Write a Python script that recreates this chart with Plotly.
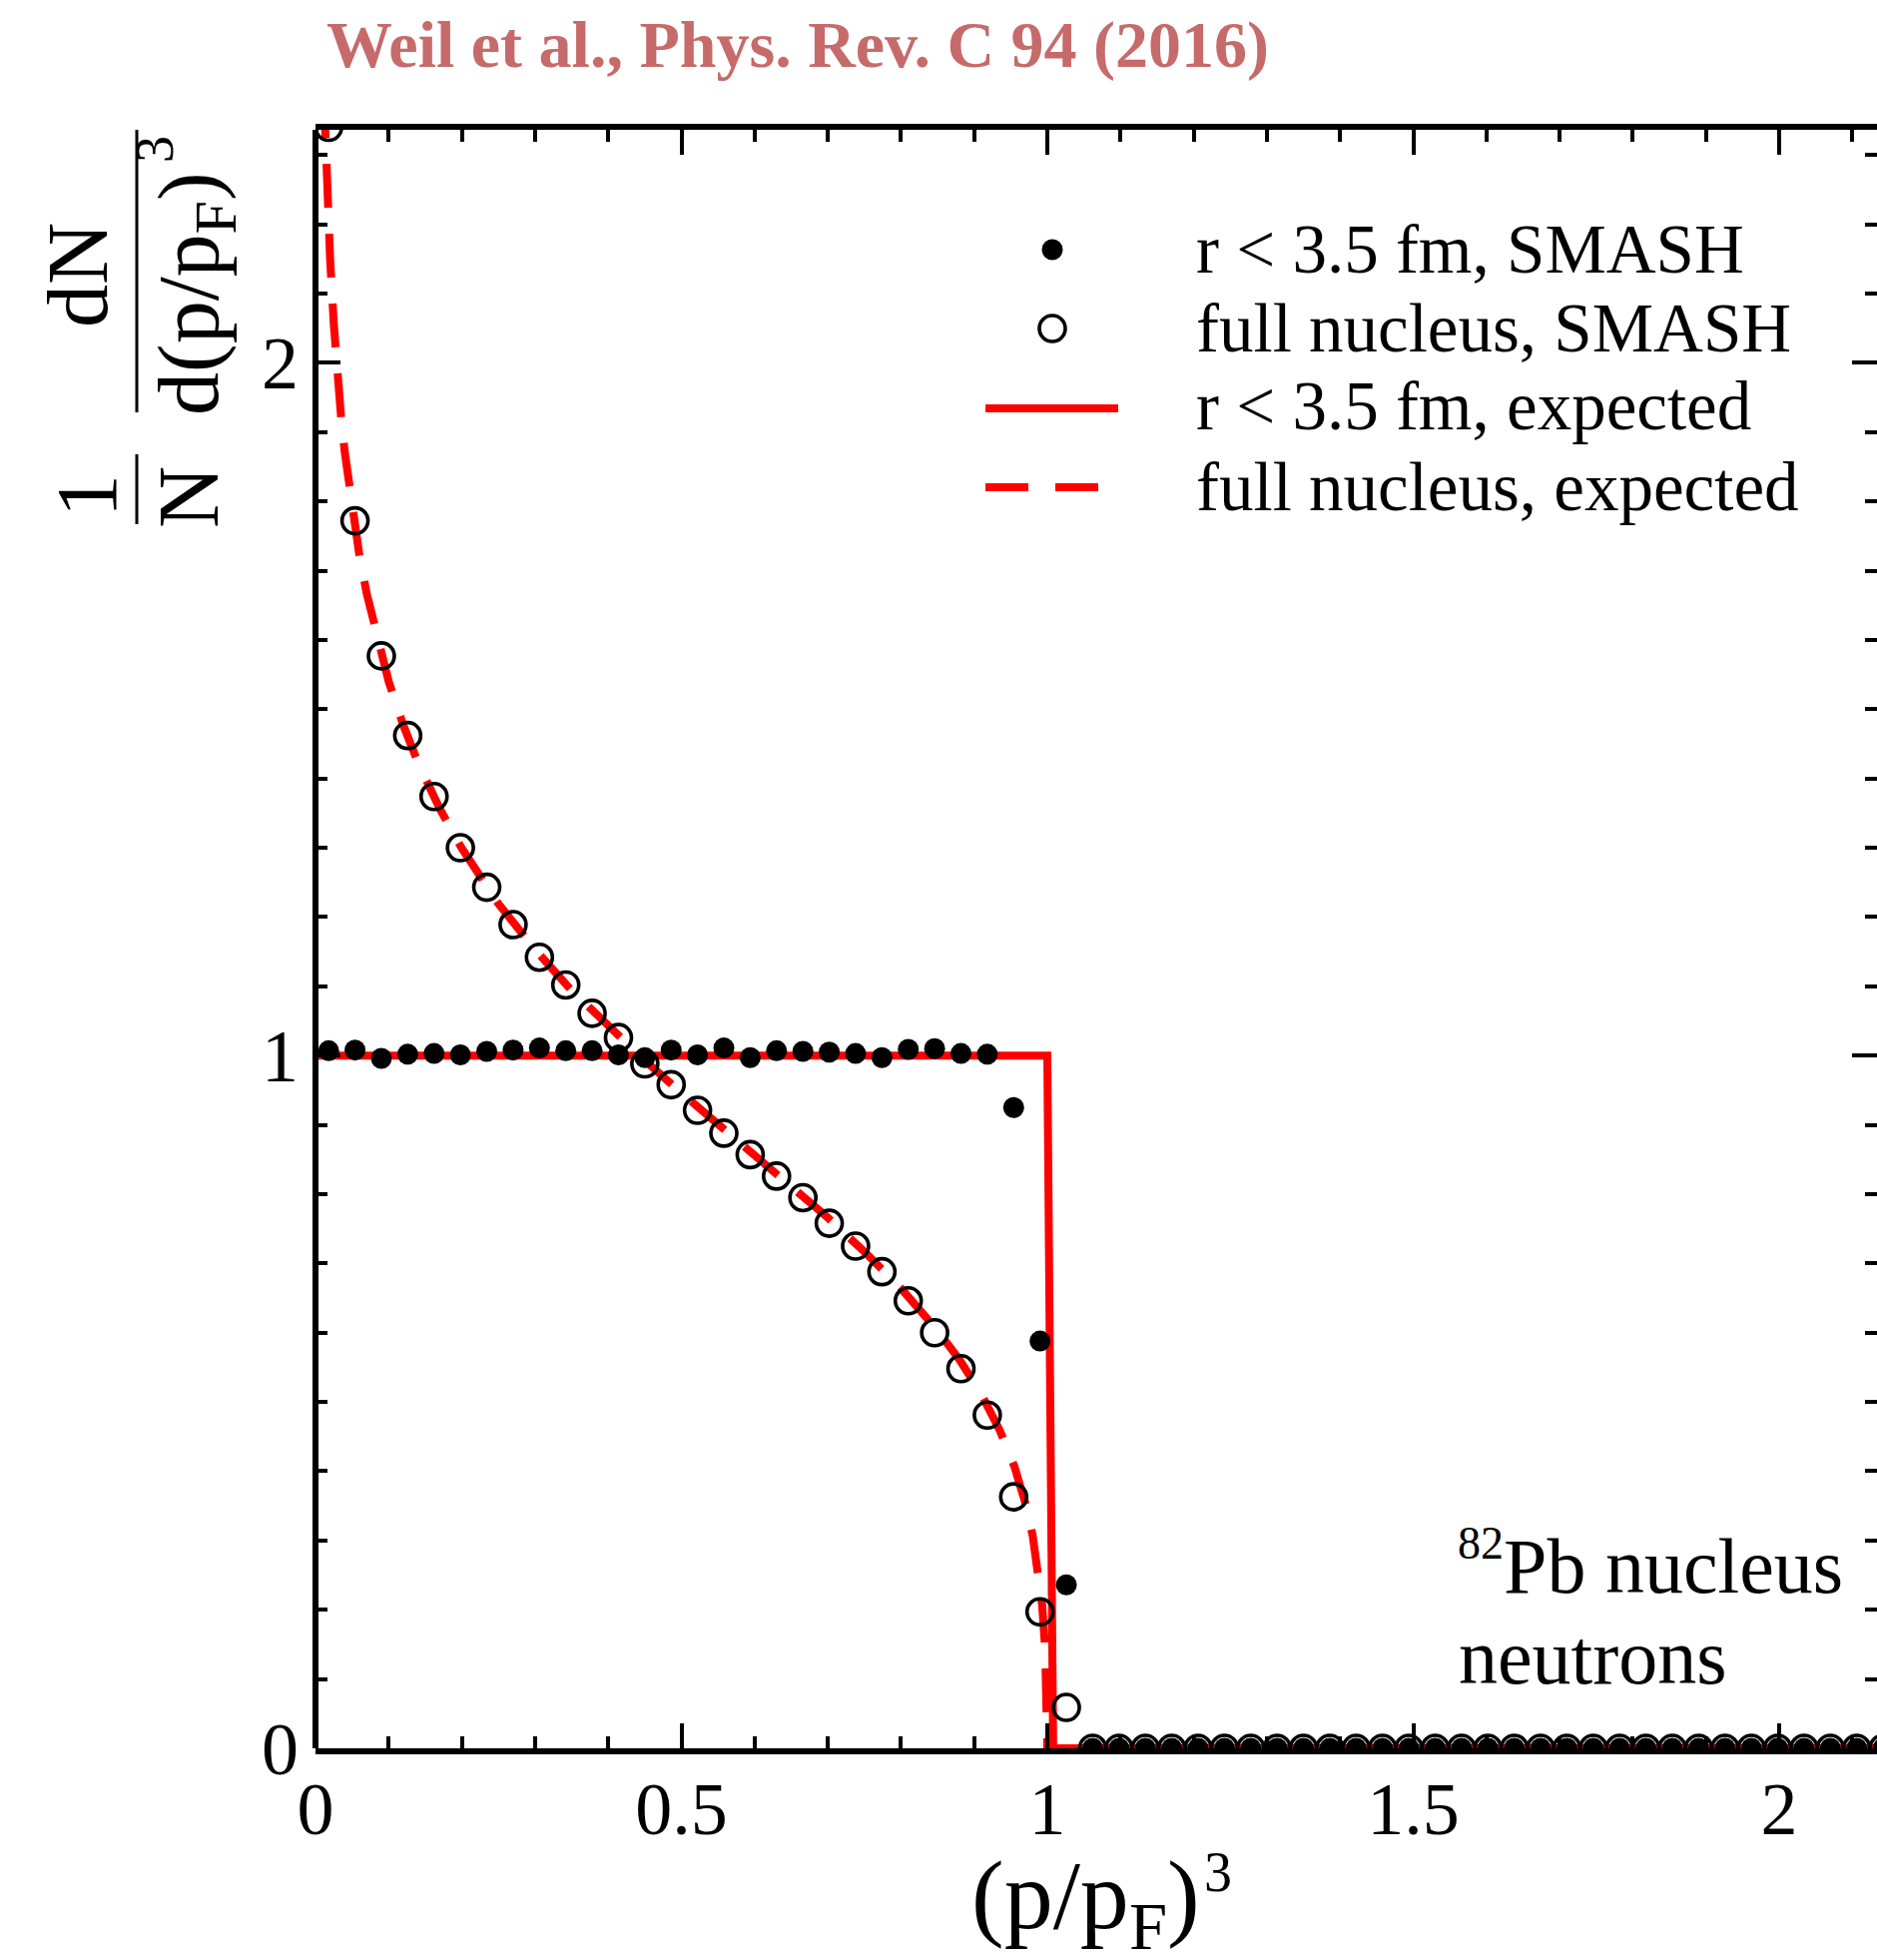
import plotly.graph_objects as go

# ---------------------------------------------------------------
# Momentum distribution of neutrons in a Pb nucleus (SMASH vs. expectation)
# ---------------------------------------------------------------

# bin centres of (p/pF)^3 histogram
BIN_X = [0.018, 0.054, 0.090, 0.126, 0.162, 0.198, 0.234, 0.270, 0.306, 0.342,
         0.378, 0.414, 0.450, 0.486, 0.522, 0.558, 0.594, 0.630, 0.666, 0.702,
         0.738, 0.774, 0.810, 0.846, 0.882, 0.918, 0.954, 0.990, 1.026, 1.062,
         1.098, 1.134, 1.170, 1.206, 1.242, 1.278, 1.314, 1.350, 1.386, 1.422,
         1.458, 1.494, 1.530, 1.566, 1.602, 1.638, 1.674, 1.710, 1.746, 1.782,
         1.818, 1.854, 1.890, 1.926, 1.962, 1.998, 2.034, 2.070, 2.106, 2.142]

# r < 3.5 fm, SMASH
CORE_SMASH = [1.007, 1.008, 0.996, 1.002, 1.003, 1.001, 1.006, 1.008, 1.011, 1.007,
              1.007, 1.001, 0.997, 1.008, 1.001, 1.011, 0.997, 1.007, 1.006, 1.005,
              1.003, 0.997, 1.009, 1.010, 1.003, 1.002, 0.925, 0.588, 0.236, 0.0,
              0.0, 0.0, 0.0, 0.0, 0.0, 0.0, 0.0, 0.0, 0.0, 0.0,
              0.0, 0.0, 0.0, 0.0, 0.0, 0.0, 0.0, 0.0, 0.0, 0.0,
              0.0, 0.0, 0.0, 0.0, 0.0, 0.0, 0.0, 0.0, 0.0, 0.0]

# full nucleus, SMASH
FULL_SMASH = [2.340, 1.772, 1.577, 1.462, 1.374, 1.300, 1.243, 1.189, 1.142, 1.102,
              1.061, 1.026, 0.988, 0.958, 0.921, 0.888, 0.857, 0.826, 0.795, 0.758,
              0.725, 0.688, 0.646, 0.600, 0.548, 0.481, 0.363, 0.197, 0.059, 0.0,
              0.0, 0.0, 0.0, 0.0, 0.0, 0.0, 0.0, 0.0, 0.0, 0.0,
              0.0, 0.0, 0.0, 0.0, 0.0, 0.0, 0.0, 0.0, 0.0, 0.0,
              0.0, 0.0, 0.0, 0.0, 0.0, 0.0, 0.0, 0.0, 0.0, 0.0]

# r < 3.5 fm, expected (step function)
CORE_EXP_X = [0.0, 1.000, 1.008, 2.20]
CORE_EXP_Y = [1.0, 1.0, 0.0, 0.0]

# full nucleus, expected
FULL_EXP_X = [0.0115, 0.015, 0.0175, 0.020, 0.025, 0.030, 0.035, 0.040, 0.050, 0.060,
              0.070, 0.085, 0.100, 0.120, 0.140, 0.170, 0.200, 0.250, 0.300, 0.350,
              0.400, 0.450, 0.500, 0.550, 0.600, 0.650, 0.700, 0.750, 0.800, 0.850,
              0.880, 0.910, 0.935, 0.955, 0.970, 0.980, 0.988, 0.993, 0.997, 0.999,
              1.000]
FULL_EXP_Y = [2.388, 2.276, 2.208, 2.149, 2.056, 1.980, 1.921, 1.871, 1.788, 1.722,
              1.667, 1.598, 1.540, 1.477, 1.423, 1.356, 1.299, 1.219, 1.153, 1.094,
              1.042, 0.993, 0.946, 0.901, 0.857, 0.812, 0.766, 0.717, 0.664, 0.603,
              0.561, 0.511, 0.459, 0.407, 0.354, 0.307, 0.255, 0.206, 0.144, 0.084,
              0.0]

X_TICKS = [0, 0.5, 1, 1.5, 2]
X_TICK_TEXT = ["0", "0.5", "1", "1.5", "2"]
Y_TICKS = [0, 1, 2]
Y_TICK_TEXT = ["0", "1", "2"]

LEGEND_LABELS = ["r < 3.5 fm, SMASH", "full nucleus, SMASH",
                 "r < 3.5 fm, expected", "full nucleus, expected"]

TITLE = "Weil et al., Phys. Rev. C 94 (2016)"

# ---------------------------------------------------------------
W, H = 1880, 1963
L, R, T, B = 316, 0, 130, 212
PLOT_W = W - L - R
PLOT_H = H - T - B
X_MAX = PLOT_W / 733.0
Y_MAX = PLOT_H / 693.8

SERIF = "Liberation Serif"
RED = "#ff0000"


def px(X):
    """pixel column -> paper x"""
    return (X - L) / PLOT_W


def py(Y):
    """pixel row -> paper y"""
    return (H - B - Y) / PLOT_H


fig = go.Figure()

fig.add_trace(go.Scatter(x=FULL_EXP_X, y=FULL_EXP_Y, mode="lines",
                         line=dict(color=RED, width=8, dash="44px,26px"),
                         showlegend=False, hoverinfo="skip"))
fig.add_trace(go.Scatter(x=CORE_EXP_X, y=CORE_EXP_Y, mode="lines",
                         line=dict(color=RED, width=8),
                         showlegend=False, hoverinfo="skip"))
fig.add_trace(go.Scatter(x=BIN_X, y=FULL_SMASH, mode="markers",
                         marker=dict(symbol="circle-open", size=26, color="black",
                                     line=dict(width=3.6, color="black")),
                         showlegend=False))
fig.add_trace(go.Scatter(x=BIN_X, y=CORE_SMASH, mode="markers",
                         marker=dict(symbol="circle", size=21, color="black",
                                     line=dict(width=0)),
                         showlegend=False))

axis_common = dict(
    ticks="inside", ticklen=25, tickwidth=4, tickcolor="black",
    showgrid=False, zeroline=False, mirror="ticks",
    tickfont=dict(family=SERIF, size=74, color="black"),
    minor=dict(ticks="inside", ticklen=12, tickwidth=4, tickcolor="black",
               dtick=0.1, showgrid=False),
)

fig.update_layout(
    width=W, height=H,
    margin=dict(l=L, r=R, t=T, b=B, pad=0),
    paper_bgcolor="white", plot_bgcolor="white",
    font=dict(family=SERIF, color="black"),
    xaxis=dict(range=[0, X_MAX], tickmode="array", tickvals=X_TICKS,
               ticktext=X_TICK_TEXT, showline=True, linewidth=6,
               linecolor="black", ticklabelstandoff=-9, **axis_common),
    yaxis=dict(range=[0, Y_MAX], tickmode="array", tickvals=Y_TICKS,
               ticktext=Y_TICK_TEXT, showline=False,
               ticklabelstandoff=16, **axis_common),
    showlegend=False,
)

shapes = []
# left frame line
shapes.append(dict(type="line", xref="paper", yref="paper", x0=0, x1=0,
                   y0=0, y1=1, line=dict(color="black", width=6)))

# legend symbols
cx = 1054
shapes.append(dict(type="circle", xref="paper", yref="paper",
                   x0=px(cx - 10.5), x1=px(cx + 10.5), y0=py(250 + 10.5), y1=py(250 - 10.5),
                   fillcolor="black", line=dict(width=0)))
shapes.append(dict(type="circle", xref="paper", yref="paper",
                   x0=px(cx - 13), x1=px(cx + 13),
                   y0=py(329 + 13), y1=py(329 - 13),
                   fillcolor="rgba(0,0,0,0)", line=dict(color="black", width=3.6)))
shapes.append(dict(type="line", xref="paper", yref="paper",
                   x0=px(987), x1=px(1120), y0=py(409), y1=py(409),
                   line=dict(color=RED, width=8)))
for a, b in [(987, 1030), (1057, 1100)]:
    shapes.append(dict(type="line", xref="paper", yref="paper",
                       x0=px(a), x1=px(b), y0=py(488), y1=py(488),
                       line=dict(color=RED, width=8)))

# fraction bars of the y-axis title
shapes.append(dict(type="line", xref="paper", yref="paper",
                   x0=px(137), x1=px(137), y0=py(525), y1=py(455),
                   line=dict(color="black", width=3)))
shapes.append(dict(type="line", xref="paper", yref="paper",
                   x0=px(137), x1=px(137), y0=py(413), y1=py(130),
                   line=dict(color="black", width=3)))

fig.update_layout(shapes=shapes)

ann = []


def text(t, X, Y, size, xanchor="left", yanchor="bottom", angle=0, color="black"):
    ann.append(dict(text=t, x=px(X), y=py(Y), xref="paper", yref="paper",
                    xanchor=xanchor, yanchor=yanchor, showarrow=False,
                    textangle=angle,
                    font=dict(family=SERIF, size=size, color=color)))


# title
text("<b>" + TITLE + "</b>", 325, 69 + 0.216 * 66 + 1, 66, color="#c66a6a")

# legend labels
for lab, base in zip(LEGEND_LABELS, [274, 352.7, 430.7, 511.7]):
    text(lab, 1196, base + 0.216 * 69 + 1, 69)

# nucleus label
text("82", 1458, 1562 + 0.216 * 46 + 1, 46)
text("Pb nucleus", 1504, 1596 + 0.216 * 78 + 1, 78)
text("neutrons", 1459, 1687 + 0.216 * 78 + 1, 78)

# x-axis title
text("(p/p<sub>F</sub>)", 971, 1842, 98, yanchor="top")
text("3", 1204, 1842, 56, yanchor="top")

# y-axis title (rotated fraction)
text("1", 87, 497, 86, xanchor="center", yanchor="middle", angle=-90)
text("N", 189, 498, 86, xanchor="center", yanchor="middle", angle=-90)
text("dN", 78, 275, 86, xanchor="center", yanchor="middle", angle=-90)
text("d(p/p<sub>F</sub>)", 195, 294, 86, xanchor="center", yanchor="middle", angle=-90)
text("3", 155, 150, 54, xanchor="center", yanchor="middle", angle=-90)

fig.update_layout(annotations=ann)

fig.write_html("out.html")
